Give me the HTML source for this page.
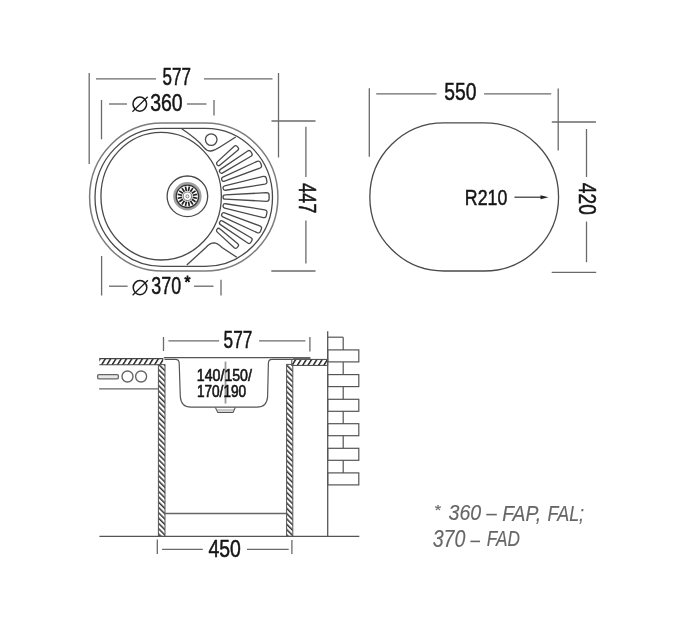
<!DOCTYPE html>
<html><head><meta charset="utf-8"><style>
html,body{margin:0;padding:0;background:#fff;}
svg{display:block;will-change:transform;}
text{font-family:"Liberation Sans",sans-serif;}
</style></head><body>
<svg width="680" height="630" viewBox="0 0 680 630">
<rect width="680" height="630" fill="#fff"/>
<defs>
<pattern id="hct" patternUnits="userSpaceOnUse" x="0" y="358" width="5.3" height="10" patternTransform="skewX(-32)">
<rect width="5.3" height="10" fill="#fff"/><rect width="1.9" height="10" fill="#333"/></pattern>
<pattern id="hw" patternUnits="userSpaceOnUse" width="3.75" height="3.75" patternTransform="rotate(-45)">
<rect width="3.75" height="3.75" fill="#fff"/><rect width="1.5" height="3.75" fill="#333"/></pattern>
</defs>
<line x1="89.2" y1="73" x2="89.2" y2="164" stroke="#6a6a6a" stroke-width="1.3"/>
<line x1="278.5" y1="73" x2="278.5" y2="157.5" stroke="#6a6a6a" stroke-width="1.3"/>
<line x1="96" y1="78.8" x2="156" y2="78.8" stroke="#6a6a6a" stroke-width="1.3"/>
<line x1="204" y1="78.8" x2="272.5" y2="78.8" stroke="#6a6a6a" stroke-width="1.3"/>
<text transform="translate(162.57,84.92) scale(0.7367,1)" font-size="23.10" fill="#151515" stroke="#151515" stroke-width="0.5">577</text>
<line x1="101.5" y1="100" x2="101.5" y2="139.3" stroke="#6a6a6a" stroke-width="1.3"/>
<line x1="214" y1="100" x2="214" y2="115.6" stroke="#6a6a6a" stroke-width="1.3"/>
<line x1="109" y1="104" x2="127" y2="104" stroke="#6a6a6a" stroke-width="1.3"/>
<line x1="187" y1="104" x2="206.5" y2="104" stroke="#6a6a6a" stroke-width="1.3"/>
<ellipse cx="139.8" cy="104.1" rx="6.8" ry="7.05" fill="none" stroke="#1a1a1a" stroke-width="1.5"/>
<line x1="132.4" y1="111.69999999999999" x2="147.70000000000002" y2="96.69999999999999" stroke="#1a1a1a" stroke-width="1.2"/>
<text transform="translate(150.17,111.01) scale(0.8191,1)" font-size="23.80" fill="#151515" stroke="#151515" stroke-width="0.5">360</text>
<line x1="271.5" y1="121" x2="315.5" y2="121" stroke="#6a6a6a" stroke-width="1.3"/>
<line x1="271.3" y1="271" x2="315.5" y2="271" stroke="#6a6a6a" stroke-width="1.3"/>
<line x1="305.9" y1="126.7" x2="305.9" y2="177" stroke="#6a6a6a" stroke-width="1.3"/>
<line x1="305.9" y1="220.6" x2="305.9" y2="263.5" stroke="#6a6a6a" stroke-width="1.3"/>
<text transform="translate(298.89,182.99) rotate(90) scale(0.7639,1)" font-size="23.80" fill="#151515" stroke="#151515" stroke-width="0.5">447</text>
<line x1="101.6" y1="256" x2="101.6" y2="295.5" stroke="#6a6a6a" stroke-width="1.3"/>
<line x1="221" y1="279.7" x2="221" y2="295.6" stroke="#6a6a6a" stroke-width="1.3"/>
<line x1="109" y1="286.2" x2="127.6" y2="286.2" stroke="#6a6a6a" stroke-width="1.3"/>
<line x1="194" y1="286.2" x2="213.5" y2="286.2" stroke="#6a6a6a" stroke-width="1.3"/>
<ellipse cx="140" cy="287.6" rx="6.8" ry="7.05" fill="none" stroke="#1a1a1a" stroke-width="1.5"/>
<line x1="132.6" y1="295.20000000000005" x2="147.9" y2="280.20000000000005" stroke="#1a1a1a" stroke-width="1.2"/>
<text transform="translate(151.34,294.21) scale(0.7416,1)" font-size="24.08" fill="#151515" stroke="#151515" stroke-width="0.5">370</text>
<text transform="translate(184.42,288.39) scale(0.9381,1)" font-size="16.29" fill="#151515" stroke="#151515" stroke-width="0.9">*</text>
<path d="M162.2,123.1 L205.3,123.1 A72.6 74 0 0 1 205.3,271.1 L162.2,271.1 A72.6 74 0 0 1 162.2,123.1 Z" fill="none" stroke="#7c7c7c" stroke-width="1.5"/>
<path d="M162.2,128.4 L205.3,128.4 A67.2 69 0 0 1 205.3,266.4 L162.2,266.4 A67.2 69 0 0 1 162.2,128.4 Z" fill="none" stroke="#4a4a4a" stroke-width="1.3"/>
<ellipse cx="161.15" cy="196.2" rx="60.2" ry="63.8" fill="none" stroke="#4a4a4a" stroke-width="1.3"/>
<circle cx="211.2" cy="139.6" r="5.8" fill="none" stroke="#4a4a4a" stroke-width="1.3"/>
<path d="M181.7,128.8 C188,133 198,140 203.8,147.3 C206,150 208,151.2 211,151 C214,150.6 217,149 220,147 L235.7,137" fill="none" stroke="#4a4a4a" stroke-width="1.3"/>
<path d="M186.8,265 L205.9,247.5 C208,245 211,243 214,242.9 C217,243 219.5,245 222,247.5 L236.8,257.3" fill="none" stroke="#4a4a4a" stroke-width="1.3"/>
<path d="M220.05,165.05 L237.78,150.27 Q239.30,148.93 237.97,147.41 L237.08,146.40 Q235.74,144.88 234.22,146.21 L217.28,161.89 A2.1 2.1 0 0 0 220.05,165.05 Z" fill="none" stroke="#4a4a4a" stroke-width="1.3"/>
<path d="M222.66,172.93 L251.01,156.26 Q252.98,155.02 251.74,153.05 L250.91,151.74 Q249.67,149.78 247.71,151.01 L220.42,169.38 A2.1 2.1 0 0 0 222.66,172.93 Z" fill="none" stroke="#4a4a4a" stroke-width="1.3"/>
<path d="M224.58,181.12 L259.85,168.03 Q262.26,167.03 261.26,164.63 L260.49,162.78 Q259.50,160.38 257.10,161.38 L222.90,177.06 A2.2 2.2 0 0 0 224.58,181.12 Z" fill="none" stroke="#4a4a4a" stroke-width="1.3"/>
<path d="M225.55,190.24 L264.83,184.23 Q267.38,183.72 266.87,181.17 L266.32,178.42 Q265.81,175.87 263.26,176.38 L224.69,185.93 A2.2 2.2 0 0 0 225.55,190.24 Z" fill="none" stroke="#4a4a4a" stroke-width="1.3"/>
<path d="M225.20,199.20 L266.50,201.30 Q269.10,201.30 269.10,198.70 L269.10,195.30 Q269.10,192.70 266.50,192.70 L225.20,194.80 A2.2 2.2 0 0 0 225.20,199.20 Z" fill="none" stroke="#4a4a4a" stroke-width="1.3"/>
<path d="M217.28,232.11 L234.22,247.79 Q235.74,249.12 237.08,247.60 L237.97,246.59 Q239.30,245.07 237.78,243.73 L220.05,228.95 A2.1 2.1 0 0 0 217.28,232.11 Z" fill="none" stroke="#4a4a4a" stroke-width="1.3"/>
<path d="M220.42,224.62 L247.71,242.99 Q249.67,244.22 250.91,242.26 L251.74,240.95 Q252.98,238.98 251.01,237.74 L222.66,221.07 A2.1 2.1 0 0 0 220.42,224.62 Z" fill="none" stroke="#4a4a4a" stroke-width="1.3"/>
<path d="M222.90,216.94 L257.10,232.62 Q259.50,233.62 260.49,231.22 L261.26,229.37 Q262.26,226.97 259.85,225.97 L224.58,212.88 A2.2 2.2 0 0 0 222.90,216.94 Z" fill="none" stroke="#4a4a4a" stroke-width="1.3"/>
<path d="M224.69,208.07 L263.26,217.62 Q265.81,218.13 266.32,215.58 L266.87,212.83 Q267.38,210.28 264.83,209.77 L225.55,203.76 A2.2 2.2 0 0 0 224.69,208.07 Z" fill="none" stroke="#4a4a4a" stroke-width="1.3"/>
<circle cx="187.4" cy="196.3" r="20.3" fill="none" stroke="#4a4a4a" stroke-width="1.3"/>
<circle cx="187.4" cy="196.3" r="12.9" fill="none" stroke="#a0a0a0" stroke-width="2.6"/>
<circle cx="187.4" cy="196.3" r="11.2" fill="none" stroke="#333" stroke-width="1.3"/>
<line x1="192.70" y1="197.35" x2="197.01" y2="198.21" stroke="#222" stroke-width="1.7"/>
<line x1="191.89" y1="199.30" x2="195.55" y2="201.74" stroke="#222" stroke-width="1.7"/>
<line x1="190.40" y1="200.79" x2="192.84" y2="204.45" stroke="#222" stroke-width="1.7"/>
<line x1="188.45" y1="201.60" x2="189.31" y2="205.91" stroke="#222" stroke-width="1.7"/>
<line x1="186.35" y1="201.60" x2="185.49" y2="205.91" stroke="#222" stroke-width="1.7"/>
<line x1="184.40" y1="200.79" x2="181.96" y2="204.45" stroke="#222" stroke-width="1.7"/>
<line x1="182.91" y1="199.30" x2="179.25" y2="201.74" stroke="#222" stroke-width="1.7"/>
<line x1="182.10" y1="197.35" x2="177.79" y2="198.21" stroke="#222" stroke-width="1.7"/>
<line x1="182.10" y1="195.25" x2="177.79" y2="194.39" stroke="#222" stroke-width="1.7"/>
<line x1="182.91" y1="193.30" x2="179.25" y2="190.86" stroke="#222" stroke-width="1.7"/>
<line x1="184.40" y1="191.81" x2="181.96" y2="188.15" stroke="#222" stroke-width="1.7"/>
<line x1="186.35" y1="191.00" x2="185.49" y2="186.69" stroke="#222" stroke-width="1.7"/>
<line x1="188.45" y1="191.00" x2="189.31" y2="186.69" stroke="#222" stroke-width="1.7"/>
<line x1="190.40" y1="191.81" x2="192.84" y2="188.15" stroke="#222" stroke-width="1.7"/>
<line x1="191.89" y1="193.30" x2="195.55" y2="190.86" stroke="#222" stroke-width="1.7"/>
<line x1="192.70" y1="195.25" x2="197.01" y2="194.39" stroke="#222" stroke-width="1.7"/>
<circle cx="187.4" cy="196.3" r="4.3" fill="none" stroke="#888" stroke-width="1.2"/>
<circle cx="187.4" cy="196.3" r="1.5" fill="#fff" stroke="#777" stroke-width="0.9"/>
<line x1="369.3" y1="88.2" x2="369.3" y2="156.7" stroke="#6a6a6a" stroke-width="1.3"/>
<line x1="558.2" y1="88.5" x2="558.2" y2="150.5" stroke="#6a6a6a" stroke-width="1.3"/>
<line x1="376.2" y1="93.8" x2="436.5" y2="93.8" stroke="#6a6a6a" stroke-width="1.3"/>
<line x1="484.1" y1="93.8" x2="551.2" y2="93.8" stroke="#6a6a6a" stroke-width="1.3"/>
<text transform="translate(444.18,100.42) scale(0.8258,1)" font-size="23.38" fill="#151515" stroke="#151515" stroke-width="0.5">550</text>
<line x1="551.8" y1="122" x2="595.9" y2="122" stroke="#6a6a6a" stroke-width="1.3"/>
<line x1="551.7" y1="272.4" x2="596.2" y2="272.4" stroke="#6a6a6a" stroke-width="1.3"/>
<line x1="586.5" y1="129" x2="586.5" y2="177" stroke="#6a6a6a" stroke-width="1.3"/>
<line x1="586.5" y1="221.6" x2="586.5" y2="262.2" stroke="#6a6a6a" stroke-width="1.3"/>
<text transform="translate(579.19,182.87) rotate(90) scale(0.8085,1)" font-size="23.66" fill="#151515" stroke="#151515" stroke-width="0.5">420</text>
<path d="M443.9,122.8 L484.5,122.8 A74.1 74.1 0 0 1 484.5,271 L443.9,271 A74.1 74.1 0 0 1 443.9,122.8 Z" fill="none" stroke="#4a4a4a" stroke-width="1.3"/>
<text transform="translate(464.83,204.83) scale(0.8031,1)" font-size="22.11" fill="#151515" stroke="#151515" stroke-width="0.5">R210</text>
<line x1="514.4" y1="197.2" x2="542" y2="197.2" stroke="#333" stroke-width="1.2"/>
<path d="M548.5,197.2 L540.5,195.2 L540.5,199.2 Z" fill="#222"/>
<line x1="163.5" y1="337" x2="163.5" y2="351" stroke="#6a6a6a" stroke-width="1.3"/>
<line x1="309.9" y1="337" x2="309.9" y2="351.6" stroke="#6a6a6a" stroke-width="1.3"/>
<line x1="168.4" y1="340.8" x2="219.1" y2="340.8" stroke="#6a6a6a" stroke-width="1.3"/>
<line x1="259.1" y1="340.8" x2="305.4" y2="340.8" stroke="#6a6a6a" stroke-width="1.3"/>
<text transform="translate(223.56,348.42) scale(0.7449,1)" font-size="23.10" fill="#151515" stroke="#151515" stroke-width="0.5">577</text>
<rect x="99.3" y="358.6" width="64" height="6.2" fill="url(#hct)"/>
<line x1="99.3" y1="358.6" x2="163.3" y2="358.6" stroke="#444" stroke-width="1.1"/>
<line x1="99.3" y1="364.8" x2="158.4" y2="364.8" stroke="#444" stroke-width="1.1"/>
<rect x="291.8" y="359.4" width="35.9" height="6" fill="url(#hct)" stroke="#444" stroke-width="1"/>
<rect x="158.4" y="364.6" width="6.6" height="171.8" fill="url(#hw)" stroke="#555" stroke-width="1"/>
<rect x="286.6" y="364.4" width="6.2" height="172" fill="url(#hw)" stroke="#555" stroke-width="1"/>
<rect x="97.6" y="374.6" width="20.8" height="4.2" rx="1.2" fill="#e8e8e8" stroke="#666" stroke-width="1.3"/>
<circle cx="127.5" cy="376.5" r="5.5" fill="none" stroke="#666" stroke-width="1.4"/>
<circle cx="141.1" cy="376.5" r="5.5" fill="none" stroke="#666" stroke-width="1.4"/>
<line x1="99.1" y1="388.9" x2="158.4" y2="388.9" stroke="#666" stroke-width="1.3"/>
<line x1="99.4" y1="536.4" x2="359.3" y2="536.4" stroke="#555" stroke-width="1.3"/>
<line x1="164.7" y1="513.5" x2="286.6" y2="513.5" stroke="#666" stroke-width="1.3"/>
<path d="M163.9,357.6 L310.3,357.6" stroke="#555" stroke-width="1.3" fill="none"/>
<path d="M164.5,359.3 L175.5,359.3 Q179,359.3 179.2,363 L180.3,396.5 Q181,407.2 191,407.2 L257,407.2 Q267,407.2 267.6,396.5 L268.4,363 Q268.6,359.4 272,359.4 L291.8,359.4" stroke="#555" stroke-width="1.2" fill="none"/>
<path d="M293,357.3 L306,357 Q310.8,357.2 310.6,358.6 L309.5,359.6 L293,359.6 Z" fill="#666"/>
<path d="M215.4,407.6 L217.8,412.4 L233,412.4 L235.3,407.6" fill="none" stroke="#555" stroke-width="1.1"/>
<line x1="216.5" y1="410" x2="234" y2="410" stroke="#888" stroke-width="0.9"/>
<line x1="225.5" y1="361.6" x2="225.5" y2="403.5" stroke="#999" stroke-width="1.8"/>
<text transform="translate(196.86,380.81) scale(0.8353,1)" font-size="16.94" fill="#151515" stroke="#151515" stroke-width="0.65">140/150/</text>
<text transform="translate(196.90,397.21) scale(0.8043,1)" font-size="16.94" fill="#151515" stroke="#151515" stroke-width="0.65">170/190</text>
<line x1="157.3" y1="539.5" x2="157.3" y2="554.1" stroke="#6a6a6a" stroke-width="1.3"/>
<line x1="291.9" y1="540" x2="291.9" y2="554" stroke="#6a6a6a" stroke-width="1.3"/>
<line x1="162.1" y1="549.3" x2="202.8" y2="549.3" stroke="#6a6a6a" stroke-width="1.3"/>
<line x1="247" y1="549.3" x2="288.7" y2="549.3" stroke="#6a6a6a" stroke-width="1.3"/>
<text transform="translate(208.46,557.41) scale(0.8216,1)" font-size="23.66" fill="#151515" stroke="#151515" stroke-width="0.5">450</text>
<line x1="327.7" y1="331.2" x2="327.7" y2="536.4" stroke="#555" stroke-width="1.3"/>
<rect x="327.7" y="349.9" width="31.1" height="12" fill="none" stroke="#555" stroke-width="1.2"/>
<rect x="327.7" y="374.6" width="31.1" height="12" fill="none" stroke="#555" stroke-width="1.2"/>
<rect x="327.7" y="399.3" width="31.1" height="12" fill="none" stroke="#555" stroke-width="1.2"/>
<rect x="327.7" y="423.7" width="31.1" height="12" fill="none" stroke="#555" stroke-width="1.2"/>
<rect x="327.7" y="448.3" width="31.1" height="12" fill="none" stroke="#555" stroke-width="1.2"/>
<rect x="327.7" y="472.9" width="31.1" height="12" fill="none" stroke="#555" stroke-width="1.2"/>
<line x1="327.7" y1="337.2" x2="343.2" y2="337.2" stroke="#555" stroke-width="1.2"/>
<line x1="343.2" y1="337.2" x2="343.2" y2="349.9" stroke="#555" stroke-width="1.2"/>
<line x1="343.2" y1="361.9" x2="343.2" y2="374.5" stroke="#555" stroke-width="1.2"/>
<line x1="343.2" y1="386.6" x2="343.2" y2="399.20000000000005" stroke="#555" stroke-width="1.2"/>
<line x1="343.2" y1="411.3" x2="343.2" y2="423.90000000000003" stroke="#555" stroke-width="1.2"/>
<line x1="343.2" y1="435.7" x2="343.2" y2="448.3" stroke="#555" stroke-width="1.2"/>
<line x1="343.2" y1="460.3" x2="343.2" y2="472.90000000000003" stroke="#555" stroke-width="1.2"/>
<text transform="translate(433.97,514.93) scale(1.1616,1)" font-size="14.43" font-style="italic" fill="#666" stroke="#666" stroke-width="0.15">*</text>
<text transform="translate(448.58,520.30) scale(0.8565,1)" font-size="22.89" font-style="italic" fill="#666" stroke="#666" stroke-width="0.15">360</text>
<text transform="translate(502.20,520.90) scale(0.8592,1)" font-size="22.50" font-style="italic" fill="#666" stroke="#666" stroke-width="0.15">FAP,</text>
<text transform="translate(547.54,520.56) scale(0.8154,1)" font-size="22.01" font-style="italic" fill="#666" stroke="#666" stroke-width="0.15">FAL;</text>
<path d="M486.3,514.6 L496.8,514.6" stroke="#666" stroke-width="1.6"/>
<text transform="translate(432.68,547.29) scale(0.8410,1)" font-size="23.31" font-style="italic" fill="#666" stroke="#666" stroke-width="0.15">370</text>
<text transform="translate(486.86,546.42) scale(0.7851,1)" font-size="21.96" font-style="italic" fill="#666" stroke="#666" stroke-width="0.15">FAD</text>
<path d="M470.4,541.4 L480,541.4" stroke="#666" stroke-width="1.6"/>
</svg></body></html>
